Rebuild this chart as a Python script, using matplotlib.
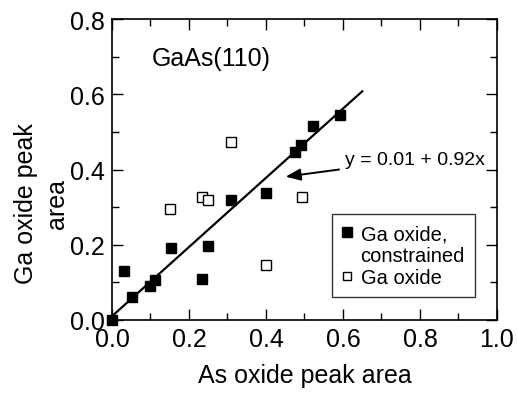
import matplotlib
matplotlib.use("Agg")
import matplotlib.pyplot as plt
from matplotlib.ticker import MultipleLocator

plt.rcParams['font.family'] = ['Liberation Sans', 'DejaVu Sans']

filled_x = [0.0, 0.031, 0.052, 0.100, 0.112, 0.152, 0.234, 0.250, 0.310, 0.400, 0.476, 0.492, 0.521, 0.592]
filled_y = [0.0, 0.130, 0.060, 0.091, 0.107, 0.191, 0.110, 0.197, 0.320, 0.337, 0.447, 0.464, 0.516, 0.545]
open_x = [0.150, 0.233, 0.250, 0.309, 0.401, 0.493]
open_y = [0.295, 0.326, 0.319, 0.473, 0.147, 0.326]
fit_x = [0.0, 0.650]
intercept, slope = 0.01, 0.92

fig = plt.figure(figsize=(5.17, 4.02), dpi=100)
ax = fig.add_axes([0.2166, 0.2015, 0.9613 - 0.2166, 0.950 - 0.2015])

fit_y = [intercept + slope * v for v in fit_x]
ax.plot(fit_x, fit_y, color='black', lw=1.6, zorder=2)
h1, = ax.plot(filled_x, filled_y, 's', color='black', ms=7.8, zorder=3, clip_on=False)
h2, = ax.plot(open_x, open_y, 's', mfc='white', mec='black', mew=1.0, ms=6.5, zorder=3)
hblank, = ax.plot([], [], ' ')

ax.set_xlim(0, 1.0)
ax.set_ylim(0, 0.8)
ax.xaxis.set_major_locator(MultipleLocator(0.2))
ax.xaxis.set_minor_locator(MultipleLocator(0.1))
ax.yaxis.set_major_locator(MultipleLocator(0.2))
ax.yaxis.set_minor_locator(MultipleLocator(0.1))
ax.xaxis.set_major_formatter(matplotlib.ticker.FormatStrFormatter('%.1f'))
ax.yaxis.set_major_formatter(matplotlib.ticker.FormatStrFormatter('%.1f'))
ax.tick_params(which='both', direction='in', top=True, right=True, width=1.0)
ax.tick_params(which='major', length=8, labelsize=18, pad=5)
ax.tick_params(which='minor', length=5)
for s in ax.spines.values():
    s.set_linewidth(1.2)

ax.set_xlabel('As oxide peak area', fontsize=18, labelpad=9)
ax.set_ylabel('Ga oxide peak\narea', fontsize=18, linespacing=1.35)
ax.yaxis.set_label_coords(-0.112, 0.389)

ax.text(0.102, 0.696, 'GaAs(110)', fontsize=18, va='center', ha='left')
ax.annotate('y = 0.01 + 0.92x', xy=(0.451, 0.381), xytext=(0.604, 0.427),
            fontsize=14, va='center', ha='left',
            arrowprops=dict(arrowstyle='-|>,head_length=0.5,head_width=0.2',
                            color='black', lw=1.4,
                            mutation_scale=18, shrinkA=2, shrinkB=0))

leg = ax.legend([h1, hblank, h2], ['Ga oxide,', 'constrained', 'Ga oxide'],
                loc='lower right', bbox_to_anchor=(0.943, 0.076), fontsize=14.5,
                frameon=True, fancybox=False, edgecolor='black', handlelength=0.45,
                handletextpad=0.45, borderpad=0.5, labelspacing=0.15,
                borderaxespad=0, markerscale=0.85)
leg.get_frame().set_linewidth(1.0)

fig.savefig('out.png', dpi=100)
